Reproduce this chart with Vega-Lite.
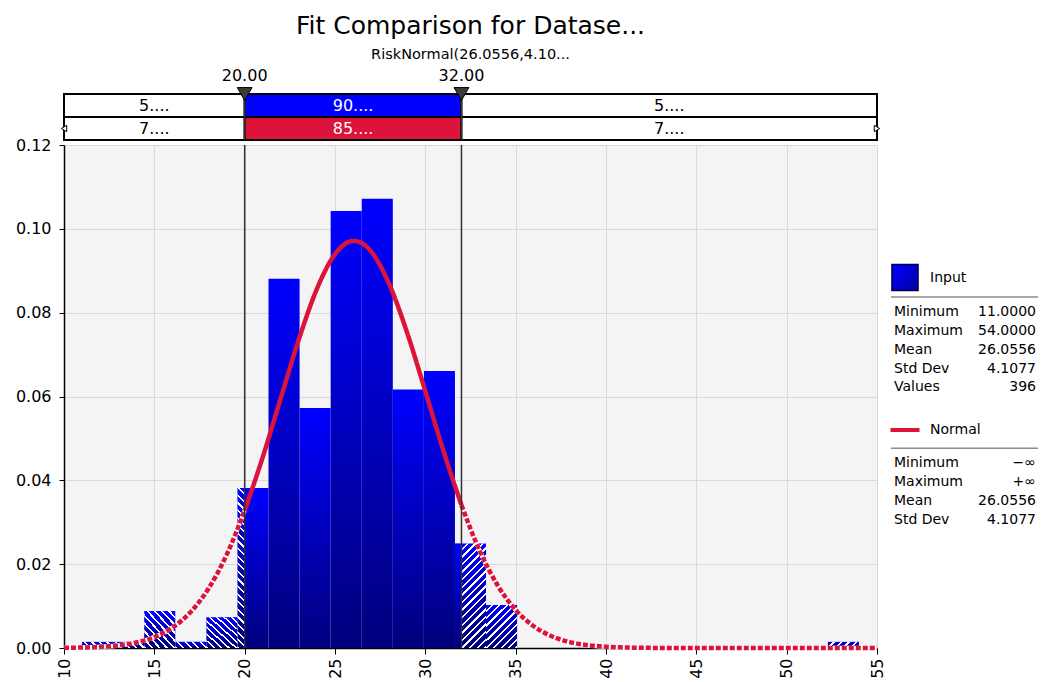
{
 "$schema": "https://vega.github.io/schema/vega-lite/v6.json",
 "background": "white",
 "padding": {"left": 15, "top": 13, "right": 2, "bottom": 0},
 "bounds": "flush",
 "spacing": 5,
 "config": {
  "font": "DejaVu Sans",
  "view": {"stroke": null},
  "axis": {"labelFont": "DejaVu Sans", "labelFontSize": 16, "labelColor": "black", "tickColor": "black", "domainColor": "black", "domainWidth": 1.5, "gridColor": "#d9d9d9", "gridWidth": 1, "title": null}
 },
 "datasets": {
  "bins": [
   {"lo": 11, "hi": 12.72, "density": 0.001468, "region": "left"},
   {"lo": 12.72, "hi": 14.44, "density": 0.001468, "region": "left"},
   {"lo": 14.44, "hi": 16.16, "density": 0.008809, "region": "left"},
   {"lo": 16.16, "hi": 17.88, "density": 0.001468, "region": "left"},
   {"lo": 17.88, "hi": 19.6, "density": 0.007341, "region": "left"},
   {"lo": 19.6, "hi": 20, "density": 0.038172, "region": "left"},
   {"lo": 20, "hi": 21.32, "density": 0.038172, "region": "mid"},
   {"lo": 21.32, "hi": 23.04, "density": 0.08809, "region": "mid"},
   {"lo": 23.04, "hi": 24.76, "density": 0.057259, "region": "mid"},
   {"lo": 24.76, "hi": 26.48, "density": 0.10424, "region": "mid"},
   {"lo": 26.48, "hi": 28.2, "density": 0.107177, "region": "mid"},
   {"lo": 28.2, "hi": 29.92, "density": 0.061664, "region": "mid"},
   {"lo": 29.92, "hi": 31.64, "density": 0.066068, "region": "mid"},
   {"lo": 31.64, "hi": 32, "density": 0.024959, "region": "mid"},
   {"lo": 32, "hi": 33.36, "density": 0.024959, "region": "right"},
   {"lo": 33.36, "hi": 35.08, "density": 0.010277, "region": "right"},
   {"lo": 52.28, "hi": 54, "density": 0.001468, "region": "right"}
  ],
  "curve": [
   {"x": 10, "d": 0.0000467, "seg": "left"},
   {"x": 11, "d": 0.0001175, "seg": "left"},
   {"x": 12, "d": 0.0002786, "seg": "left"},
   {"x": 13, "d": 0.000622, "seg": "left"},
   {"x": 14, "d": 0.001309, "seg": "left"},
   {"x": 15, "d": 0.002596, "seg": "left"},
   {"x": 16, "d": 0.004852, "seg": "left"},
   {"x": 17, "d": 0.00855, "seg": "left"},
   {"x": 18, "d": 0.014196, "seg": "left"},
   {"x": 19, "d": 0.022213, "seg": "left"},
   {"x": 20, "d": 0.032765, "seg": "left"},
   {"x": 20, "d": 0.032765, "seg": "mid"},
   {"x": 21, "d": 0.045538, "seg": "mid"},
   {"x": 22, "d": 0.059655, "seg": "mid"},
   {"x": 23, "d": 0.073643, "seg": "mid"},
   {"x": 24, "d": 0.08569, "seg": "mid"},
   {"x": 25, "d": 0.093966, "seg": "mid"},
   {"x": 25.5, "d": 0.096235, "seg": "mid"},
   {"x": 26, "d": 0.097111, "seg": "mid"},
   {"x": 26.5, "d": 0.096553, "seg": "mid"},
   {"x": 27, "d": 0.094587, "seg": "mid"},
   {"x": 28, "d": 0.086826, "seg": "mid"},
   {"x": 29, "d": 0.075114, "seg": "mid"},
   {"x": 30, "d": 0.061249, "seg": "mid"},
   {"x": 31, "d": 0.047064, "seg": "mid"},
   {"x": 32, "d": 0.034085, "seg": "mid"},
   {"x": 32, "d": 0.034085, "seg": "right"},
   {"x": 33, "d": 0.023264, "seg": "right"},
   {"x": 34, "d": 0.014964, "seg": "right"},
   {"x": 35, "d": 0.009072, "seg": "right"},
   {"x": 36, "d": 0.005183, "seg": "right"},
   {"x": 37, "d": 0.002792, "seg": "right"},
   {"x": 38, "d": 0.001417, "seg": "right"},
   {"x": 39, "d": 0.000678, "seg": "right"},
   {"x": 40, "d": 0.000305, "seg": "right"},
   {"x": 41, "d": 0.00013, "seg": "right"},
   {"x": 42, "d": 0.000052, "seg": "right"},
   {"x": 43, "d": 0.0000196, "seg": "right"},
   {"x": 44, "d": 0.000007, "seg": "right"},
   {"x": 46, "d": 0.0000005, "seg": "right"},
   {"x": 50, "d": 0, "seg": "right"},
   {"x": 55, "d": 0, "seg": "right"}
  ],
  "limits": [
   {"x": 20, "label": "20.00", "row": "Input"},
   {"x": 32, "label": "32.00", "row": "Input"}
  ],
  "band": [
   {"row": "Input", "lo": 10, "hi": 20, "label": "5....", "seg": "left"},
   {"row": "Input", "lo": 20, "hi": 32, "label": "90....", "seg": "mid"},
   {"row": "Input", "lo": 32, "hi": 55, "label": "5....", "seg": "right"},
   {"row": "Normal", "lo": 10, "hi": 20, "label": "7....", "seg": "left"},
   {"row": "Normal", "lo": 20, "hi": 32, "label": "85....", "seg": "mid"},
   {"row": "Normal", "lo": 32, "hi": 55, "label": "7....", "seg": "right"}
  ],
  "tails": [
   {"x": 10, "row": "Normal", "dir": "left"},
   {"x": 55, "row": "Normal", "dir": "right"}
  ],
  "heads": [
   {"key": "Input"},
   {"key": "Normal"}
  ],
  "stats": [
   {"key": "Input Minimum", "label": "Minimum", "value": "11.0000"},
   {"key": "Input Maximum", "label": "Maximum", "value": "54.0000"},
   {"key": "Input Mean", "label": "Mean", "value": "26.0556"},
   {"key": "Input Std Dev", "label": "Std Dev", "value": "4.1077"},
   {"key": "Input Values", "label": "Values", "value": "396"},
   {"key": "Normal Minimum", "label": "Minimum", "value": "−∞"},
   {"key": "Normal Maximum", "label": "Maximum", "value": "+∞"},
   {"key": "Normal Mean", "label": "Mean", "value": "26.0556"},
   {"key": "Normal Std Dev", "label": "Std Dev", "value": "4.1077"}
  ]
 },
 "vconcat": [
  {
   "width": 813,
   "height": 46,
   "title": {"text": "Fit Comparison for Datase...", "subtitle": "RiskNormal(26.0556,4.10...", "font": "DejaVu Sans", "fontSize": 25, "fontWeight": "normal", "color": "black", "subtitleFont": "DejaVu Sans", "subtitleFontSize": 14.5, "subtitleColor": "black", "subtitlePadding": 9, "anchor": "middle", "offset": 7},
   "layer": [
    {
     "data": {"name": "band"},
     "mark": {"type": "rect", "stroke": "black", "strokeWidth": 2},
     "encoding": {
      "x": {"field": "lo", "type": "quantitative", "scale": {"domain": [10, 55], "nice": false, "zero": false}, "axis": null},
      "x2": {"field": "hi"},
      "y": {"field": "row", "type": "nominal", "scale": {"domain": ["Input", "Normal"], "paddingInner": 0, "paddingOuter": 0}, "axis": null},
      "fill": {"condition": {"test": "datum.seg !== 'mid'", "value": "white"}, "field": "row", "type": "nominal", "scale": {"domain": ["Input", "Normal"], "range": ["#0000ff", "#dc143c"]}, "legend": null}
     }
    },
    {
     "data": {"name": "band"},
     "transform": [
      {"fold": ["lo", "hi"], "as": ["edge", "xv"]},
      {"aggregate": [{"op": "mean", "field": "xv", "as": "mid"}], "groupby": ["row", "seg", "label"]}
     ],
     "mark": {"type": "text", "fontSize": 16, "baseline": "middle"},
     "encoding": {
      "x": {"field": "mid", "type": "quantitative"},
      "y": {"field": "row", "type": "nominal"},
      "text": {"field": "label"},
      "color": {"condition": {"test": "datum.seg === 'mid'", "value": "white"}, "value": "black"}
     }
    },
    {
     "data": {"name": "limits"},
     "mark": {"type": "rule", "color": "#333333", "strokeWidth": 1.5},
     "encoding": {"x": {"field": "x", "type": "quantitative"}}
    },
    {
     "data": {"name": "limits"},
     "mark": {"type": "point", "shape": "triangle-down", "size": 220, "filled": true, "fill": "#3a3a3a", "stroke": "black", "strokeWidth": 1, "opacity": 1},
     "encoding": {
      "x": {"field": "x", "type": "quantitative"},
      "y": {"field": "row", "type": "nominal", "bandPosition": 0}
     }
    },
    {
     "data": {"name": "limits"},
     "mark": {"type": "text", "fontSize": 16, "baseline": "alphabetic", "dy": -13, "color": "black"},
     "encoding": {
      "x": {"field": "x", "type": "quantitative"},
      "y": {"field": "row", "type": "nominal", "bandPosition": 0},
      "text": {"field": "label"}
     }
    },
    {
     "data": {"name": "tails"},
     "mark": {"type": "point", "filled": true, "fill": "white", "stroke": "black", "strokeWidth": 1, "size": 40, "opacity": 1},
     "encoding": {
      "x": {"field": "x", "type": "quantitative"},
      "y": {"field": "row", "type": "nominal"},
      "shape": {"field": "dir", "type": "nominal", "scale": {"domain": ["left", "right"], "range": ["triangle-left", "triangle-right"]}, "legend": null}
     }
    }
   ]
  },
  {
   "hconcat": [
    {
     "width": 813,
     "height": 503,
     "view": {"fill": "#f4f4f4", "stroke": null},
     "layer": [
      {
       "data": {"name": "bins"},
       "transform": [{"filter": "datum.region === 'mid'"}],
       "mark": {"type": "rect", "fill": {"gradient": "linear", "x1": 0, "y1": 0, "x2": 0, "y2": 1, "stops": [{"offset": 0, "color": "#0000ff"}, {"offset": 1, "color": "#00007d"}]}},
       "encoding": {
        "x": {"field": "lo", "type": "quantitative", "scale": {"domain": [10, 55], "nice": false, "zero": false}, "axis": {"values": [10, 15, 20, 25, 30, 35, 40, 45, 50, 55], "labelAngle": -90, "tickSize": 6, "labelPadding": 4, "grid": true, "labelFlush": false, "labelOverlap": false}},
        "x2": {"field": "hi"},
        "y": {"field": "density", "type": "quantitative", "scale": {"domain": [0, 0.12], "nice": false}, "axis": {"values": [0, 0.02, 0.04, 0.06, 0.08, 0.1, 0.12], "format": ".2f", "tickSize": 5, "labelPadding": 8, "grid": true, "labelFlush": false}},
        "y2": {"datum": 0}
       }
      },
      {
       "data": {"name": "bins"},
       "transform": [{"filter": "datum.region !== 'mid'"}],
       "mark": {"type": "rect", "fill": {"gradient": "linear", "x1": 0, "y1": 0, "x2": 0, "y2": 1, "stops": [{"offset": 0, "color": "#0000ff"}, {"offset": 1, "color": "#00007d"}]}},
       "encoding": {"x": {"field": "lo", "type": "quantitative"}, "x2": {"field": "hi"}, "y": {"field": "density", "type": "quantitative"}, "y2": {"datum": 0}}
      },
      {
       "data": {"name": "bins"},
       "transform": [{"filter": {"field": "lo", "oneOf": [11, 12.72, 16.16]}}],
       "mark": {"type": "rect", "fill": {"gradient": "linear", "x1": 1, "y1": 0, "x2": -0.1528, "y2": 0.2283, "stops": [
        {"offset": 0, "color": "rgba(255,255,255,0)"}, {"offset": 0.14, "color": "rgba(255,255,255,0)"}, {"offset": 0.14, "color": "white"}, {"offset": 0.2, "color": "white"},
        {"offset": 0.2, "color": "rgba(255,255,255,0)"}, {"offset": 0.34, "color": "rgba(255,255,255,0)"}, {"offset": 0.34, "color": "white"}, {"offset": 0.4, "color": "white"},
        {"offset": 0.4, "color": "rgba(255,255,255,0)"}, {"offset": 0.54, "color": "rgba(255,255,255,0)"}, {"offset": 0.54, "color": "white"}, {"offset": 0.6, "color": "white"},
        {"offset": 0.6, "color": "rgba(255,255,255,0)"}, {"offset": 0.74, "color": "rgba(255,255,255,0)"}, {"offset": 0.74, "color": "white"}, {"offset": 0.8, "color": "white"},
        {"offset": 0.8, "color": "rgba(255,255,255,0)"}, {"offset": 0.94, "color": "rgba(255,255,255,0)"}, {"offset": 0.94, "color": "white"}, {"offset": 1, "color": "white"}]}},
       "encoding": {"x": {"field": "lo", "type": "quantitative"}, "x2": {"field": "hi"}, "y": {"field": "density", "type": "quantitative"}, "y2": {"datum": 0}}
      },
      {
       "data": {"name": "bins"},
       "transform": [{"filter": {"field": "lo", "oneOf": [52.28]}}],
       "mark": {"type": "rect", "fill": {"gradient": "linear", "x1": 0, "y1": 0, "x2": 1.1528, "y2": 0.2283, "stops": [
        {"offset": 0, "color": "rgba(255,255,255,0)"}, {"offset": 0.14, "color": "rgba(255,255,255,0)"}, {"offset": 0.14, "color": "white"}, {"offset": 0.2, "color": "white"},
        {"offset": 0.2, "color": "rgba(255,255,255,0)"}, {"offset": 0.34, "color": "rgba(255,255,255,0)"}, {"offset": 0.34, "color": "white"}, {"offset": 0.4, "color": "white"},
        {"offset": 0.4, "color": "rgba(255,255,255,0)"}, {"offset": 0.54, "color": "rgba(255,255,255,0)"}, {"offset": 0.54, "color": "white"}, {"offset": 0.6, "color": "white"},
        {"offset": 0.6, "color": "rgba(255,255,255,0)"}, {"offset": 0.74, "color": "rgba(255,255,255,0)"}, {"offset": 0.74, "color": "white"}, {"offset": 0.8, "color": "white"},
        {"offset": 0.8, "color": "rgba(255,255,255,0)"}, {"offset": 0.94, "color": "rgba(255,255,255,0)"}, {"offset": 0.94, "color": "white"}, {"offset": 1, "color": "white"}]}},
       "encoding": {"x": {"field": "lo", "type": "quantitative"}, "x2": {"field": "hi"}, "y": {"field": "density", "type": "quantitative"}, "y2": {"datum": 0}}
      },
      {
       "data": {"name": "bins"},
       "transform": [{"filter": {"field": "lo", "oneOf": [14.44, 17.88]}}],
       "mark": {"type": "rect", "fill": {"gradient": "linear", "x1": 1, "y1": 0, "x2": 0.0448, "y2": 1.0412, "stops": [
        {"offset": 0, "color": "rgba(255,255,255,0)"}, {"offset": 0.0778, "color": "rgba(255,255,255,0)"}, {"offset": 0.0778, "color": "white"}, {"offset": 0.1111, "color": "white"},
        {"offset": 0.1111, "color": "rgba(255,255,255,0)"}, {"offset": 0.1889, "color": "rgba(255,255,255,0)"}, {"offset": 0.1889, "color": "white"}, {"offset": 0.2222, "color": "white"},
        {"offset": 0.2222, "color": "rgba(255,255,255,0)"}, {"offset": 0.3, "color": "rgba(255,255,255,0)"}, {"offset": 0.3, "color": "white"}, {"offset": 0.3333, "color": "white"},
        {"offset": 0.3333, "color": "rgba(255,255,255,0)"}, {"offset": 0.4111, "color": "rgba(255,255,255,0)"}, {"offset": 0.4111, "color": "white"}, {"offset": 0.4444, "color": "white"},
        {"offset": 0.4444, "color": "rgba(255,255,255,0)"}, {"offset": 0.5222, "color": "rgba(255,255,255,0)"}, {"offset": 0.5222, "color": "white"}, {"offset": 0.5556, "color": "white"},
        {"offset": 0.5556, "color": "rgba(255,255,255,0)"}, {"offset": 0.6333, "color": "rgba(255,255,255,0)"}, {"offset": 0.6333, "color": "white"}, {"offset": 0.6667, "color": "white"},
        {"offset": 0.6667, "color": "rgba(255,255,255,0)"}, {"offset": 0.7444, "color": "rgba(255,255,255,0)"}, {"offset": 0.7444, "color": "white"}, {"offset": 0.7778, "color": "white"},
        {"offset": 0.7778, "color": "rgba(255,255,255,0)"}, {"offset": 0.8556, "color": "rgba(255,255,255,0)"}, {"offset": 0.8556, "color": "white"}, {"offset": 0.8889, "color": "white"},
        {"offset": 0.8889, "color": "rgba(255,255,255,0)"}, {"offset": 0.9667, "color": "rgba(255,255,255,0)"}, {"offset": 0.9667, "color": "white"}, {"offset": 1, "color": "white"}]}},
       "encoding": {"x": {"field": "lo", "type": "quantitative"}, "x2": {"field": "hi"}, "y": {"field": "density", "type": "quantitative"}, "y2": {"datum": 0}}
      },
      {
       "data": {"name": "bins"},
       "transform": [{"filter": {"field": "lo", "oneOf": [19.6]}}],
       "mark": {"type": "rect", "fill": {"gradient": "linear", "x1": 1, "y1": 0, "x2": 0.953, "y2": 1.043, "stops": [
        {"offset": 0, "color": "rgba(255,255,255,0)"}, {"offset": 0.0318, "color": "rgba(255,255,255,0)"}, {"offset": 0.0318, "color": "white"}, {"offset": 0.0455, "color": "white"},
        {"offset": 0.0455, "color": "rgba(255,255,255,0)"}, {"offset": 0.0773, "color": "rgba(255,255,255,0)"}, {"offset": 0.0773, "color": "white"}, {"offset": 0.0909, "color": "white"},
        {"offset": 0.0909, "color": "rgba(255,255,255,0)"}, {"offset": 0.1227, "color": "rgba(255,255,255,0)"}, {"offset": 0.1227, "color": "white"}, {"offset": 0.1364, "color": "white"},
        {"offset": 0.1364, "color": "rgba(255,255,255,0)"}, {"offset": 0.1682, "color": "rgba(255,255,255,0)"}, {"offset": 0.1682, "color": "white"}, {"offset": 0.1818, "color": "white"},
        {"offset": 0.1818, "color": "rgba(255,255,255,0)"}, {"offset": 0.2136, "color": "rgba(255,255,255,0)"}, {"offset": 0.2136, "color": "white"}, {"offset": 0.2273, "color": "white"},
        {"offset": 0.2273, "color": "rgba(255,255,255,0)"}, {"offset": 0.2591, "color": "rgba(255,255,255,0)"}, {"offset": 0.2591, "color": "white"}, {"offset": 0.2727, "color": "white"},
        {"offset": 0.2727, "color": "rgba(255,255,255,0)"}, {"offset": 0.3045, "color": "rgba(255,255,255,0)"}, {"offset": 0.3045, "color": "white"}, {"offset": 0.3182, "color": "white"},
        {"offset": 0.3182, "color": "rgba(255,255,255,0)"}, {"offset": 0.35, "color": "rgba(255,255,255,0)"}, {"offset": 0.35, "color": "white"}, {"offset": 0.3636, "color": "white"},
        {"offset": 0.3636, "color": "rgba(255,255,255,0)"}, {"offset": 0.3955, "color": "rgba(255,255,255,0)"}, {"offset": 0.3955, "color": "white"}, {"offset": 0.4091, "color": "white"},
        {"offset": 0.4091, "color": "rgba(255,255,255,0)"}, {"offset": 0.4409, "color": "rgba(255,255,255,0)"}, {"offset": 0.4409, "color": "white"}, {"offset": 0.4545, "color": "white"},
        {"offset": 0.4545, "color": "rgba(255,255,255,0)"}, {"offset": 0.4864, "color": "rgba(255,255,255,0)"}, {"offset": 0.4864, "color": "white"}, {"offset": 0.5, "color": "white"},
        {"offset": 0.5, "color": "rgba(255,255,255,0)"}, {"offset": 0.5318, "color": "rgba(255,255,255,0)"}, {"offset": 0.5318, "color": "white"}, {"offset": 0.5455, "color": "white"},
        {"offset": 0.5455, "color": "rgba(255,255,255,0)"}, {"offset": 0.5773, "color": "rgba(255,255,255,0)"}, {"offset": 0.5773, "color": "white"}, {"offset": 0.5909, "color": "white"},
        {"offset": 0.5909, "color": "rgba(255,255,255,0)"}, {"offset": 0.6227, "color": "rgba(255,255,255,0)"}, {"offset": 0.6227, "color": "white"}, {"offset": 0.6364, "color": "white"},
        {"offset": 0.6364, "color": "rgba(255,255,255,0)"}, {"offset": 0.6682, "color": "rgba(255,255,255,0)"}, {"offset": 0.6682, "color": "white"}, {"offset": 0.6818, "color": "white"},
        {"offset": 0.6818, "color": "rgba(255,255,255,0)"}, {"offset": 0.7136, "color": "rgba(255,255,255,0)"}, {"offset": 0.7136, "color": "white"}, {"offset": 0.7273, "color": "white"},
        {"offset": 0.7273, "color": "rgba(255,255,255,0)"}, {"offset": 0.7591, "color": "rgba(255,255,255,0)"}, {"offset": 0.7591, "color": "white"}, {"offset": 0.7727, "color": "white"},
        {"offset": 0.7727, "color": "rgba(255,255,255,0)"}, {"offset": 0.8045, "color": "rgba(255,255,255,0)"}, {"offset": 0.8045, "color": "white"}, {"offset": 0.8182, "color": "white"},
        {"offset": 0.8182, "color": "rgba(255,255,255,0)"}, {"offset": 0.85, "color": "rgba(255,255,255,0)"}, {"offset": 0.85, "color": "white"}, {"offset": 0.8636, "color": "white"},
        {"offset": 0.8636, "color": "rgba(255,255,255,0)"}, {"offset": 0.8955, "color": "rgba(255,255,255,0)"}, {"offset": 0.8955, "color": "white"}, {"offset": 0.9091, "color": "white"},
        {"offset": 0.9091, "color": "rgba(255,255,255,0)"}, {"offset": 0.9409, "color": "rgba(255,255,255,0)"}, {"offset": 0.9409, "color": "white"}, {"offset": 0.9545, "color": "white"},
        {"offset": 0.9545, "color": "rgba(255,255,255,0)"}, {"offset": 0.9864, "color": "rgba(255,255,255,0)"}, {"offset": 0.9864, "color": "white"}, {"offset": 1, "color": "white"}]}},
       "encoding": {"x": {"field": "lo", "type": "quantitative"}, "x2": {"field": "hi"}, "y": {"field": "density", "type": "quantitative"}, "y2": {"datum": 0}}
      },
      {
       "data": {"name": "bins"},
       "transform": [{"filter": {"field": "lo", "oneOf": [32]}}],
       "mark": {"type": "rect", "fill": {"gradient": "linear", "x1": 0, "y1": 0, "x2": 0.2747, "y2": 1.1702, "stops": [
        {"offset": 0, "color": "rgba(255,255,255,0)"}, {"offset": 0.0412, "color": "rgba(255,255,255,0)"}, {"offset": 0.0412, "color": "white"}, {"offset": 0.0588, "color": "white"},
        {"offset": 0.0588, "color": "rgba(255,255,255,0)"}, {"offset": 0.1, "color": "rgba(255,255,255,0)"}, {"offset": 0.1, "color": "white"}, {"offset": 0.1176, "color": "white"},
        {"offset": 0.1176, "color": "rgba(255,255,255,0)"}, {"offset": 0.1588, "color": "rgba(255,255,255,0)"}, {"offset": 0.1588, "color": "white"}, {"offset": 0.1765, "color": "white"},
        {"offset": 0.1765, "color": "rgba(255,255,255,0)"}, {"offset": 0.2176, "color": "rgba(255,255,255,0)"}, {"offset": 0.2176, "color": "white"}, {"offset": 0.2353, "color": "white"},
        {"offset": 0.2353, "color": "rgba(255,255,255,0)"}, {"offset": 0.2765, "color": "rgba(255,255,255,0)"}, {"offset": 0.2765, "color": "white"}, {"offset": 0.2941, "color": "white"},
        {"offset": 0.2941, "color": "rgba(255,255,255,0)"}, {"offset": 0.3353, "color": "rgba(255,255,255,0)"}, {"offset": 0.3353, "color": "white"}, {"offset": 0.3529, "color": "white"},
        {"offset": 0.3529, "color": "rgba(255,255,255,0)"}, {"offset": 0.3941, "color": "rgba(255,255,255,0)"}, {"offset": 0.3941, "color": "white"}, {"offset": 0.4118, "color": "white"},
        {"offset": 0.4118, "color": "rgba(255,255,255,0)"}, {"offset": 0.4529, "color": "rgba(255,255,255,0)"}, {"offset": 0.4529, "color": "white"}, {"offset": 0.4706, "color": "white"},
        {"offset": 0.4706, "color": "rgba(255,255,255,0)"}, {"offset": 0.5118, "color": "rgba(255,255,255,0)"}, {"offset": 0.5118, "color": "white"}, {"offset": 0.5294, "color": "white"},
        {"offset": 0.5294, "color": "rgba(255,255,255,0)"}, {"offset": 0.5706, "color": "rgba(255,255,255,0)"}, {"offset": 0.5706, "color": "white"}, {"offset": 0.5882, "color": "white"},
        {"offset": 0.5882, "color": "rgba(255,255,255,0)"}, {"offset": 0.6294, "color": "rgba(255,255,255,0)"}, {"offset": 0.6294, "color": "white"}, {"offset": 0.6471, "color": "white"},
        {"offset": 0.6471, "color": "rgba(255,255,255,0)"}, {"offset": 0.6882, "color": "rgba(255,255,255,0)"}, {"offset": 0.6882, "color": "white"}, {"offset": 0.7059, "color": "white"},
        {"offset": 0.7059, "color": "rgba(255,255,255,0)"}, {"offset": 0.7471, "color": "rgba(255,255,255,0)"}, {"offset": 0.7471, "color": "white"}, {"offset": 0.7647, "color": "white"},
        {"offset": 0.7647, "color": "rgba(255,255,255,0)"}, {"offset": 0.8059, "color": "rgba(255,255,255,0)"}, {"offset": 0.8059, "color": "white"}, {"offset": 0.8235, "color": "white"},
        {"offset": 0.8235, "color": "rgba(255,255,255,0)"}, {"offset": 0.8647, "color": "rgba(255,255,255,0)"}, {"offset": 0.8647, "color": "white"}, {"offset": 0.8824, "color": "white"},
        {"offset": 0.8824, "color": "rgba(255,255,255,0)"}, {"offset": 0.9235, "color": "rgba(255,255,255,0)"}, {"offset": 0.9235, "color": "white"}, {"offset": 0.9412, "color": "white"},
        {"offset": 0.9412, "color": "rgba(255,255,255,0)"}, {"offset": 0.9824, "color": "rgba(255,255,255,0)"}, {"offset": 0.9824, "color": "white"}, {"offset": 1, "color": "white"}]}},
       "encoding": {"x": {"field": "lo", "type": "quantitative"}, "x2": {"field": "hi"}, "y": {"field": "density", "type": "quantitative"}, "y2": {"datum": 0}}
      },
      {
       "data": {"name": "bins"},
       "transform": [{"filter": {"field": "lo", "oneOf": [33.36]}}],
       "mark": {"type": "rect", "fill": {"gradient": "linear", "x1": 0, "y1": 0, "x2": 0.8151, "y2": 1.133, "stops": [
        {"offset": 0, "color": "rgba(255,255,255,0)"}, {"offset": 0.07, "color": "rgba(255,255,255,0)"}, {"offset": 0.07, "color": "white"}, {"offset": 0.1, "color": "white"},
        {"offset": 0.1, "color": "rgba(255,255,255,0)"}, {"offset": 0.17, "color": "rgba(255,255,255,0)"}, {"offset": 0.17, "color": "white"}, {"offset": 0.2, "color": "white"},
        {"offset": 0.2, "color": "rgba(255,255,255,0)"}, {"offset": 0.27, "color": "rgba(255,255,255,0)"}, {"offset": 0.27, "color": "white"}, {"offset": 0.3, "color": "white"},
        {"offset": 0.3, "color": "rgba(255,255,255,0)"}, {"offset": 0.37, "color": "rgba(255,255,255,0)"}, {"offset": 0.37, "color": "white"}, {"offset": 0.4, "color": "white"},
        {"offset": 0.4, "color": "rgba(255,255,255,0)"}, {"offset": 0.47, "color": "rgba(255,255,255,0)"}, {"offset": 0.47, "color": "white"}, {"offset": 0.5, "color": "white"},
        {"offset": 0.5, "color": "rgba(255,255,255,0)"}, {"offset": 0.57, "color": "rgba(255,255,255,0)"}, {"offset": 0.57, "color": "white"}, {"offset": 0.6, "color": "white"},
        {"offset": 0.6, "color": "rgba(255,255,255,0)"}, {"offset": 0.67, "color": "rgba(255,255,255,0)"}, {"offset": 0.67, "color": "white"}, {"offset": 0.7, "color": "white"},
        {"offset": 0.7, "color": "rgba(255,255,255,0)"}, {"offset": 0.77, "color": "rgba(255,255,255,0)"}, {"offset": 0.77, "color": "white"}, {"offset": 0.8, "color": "white"},
        {"offset": 0.8, "color": "rgba(255,255,255,0)"}, {"offset": 0.87, "color": "rgba(255,255,255,0)"}, {"offset": 0.87, "color": "white"}, {"offset": 0.9, "color": "white"},
        {"offset": 0.9, "color": "rgba(255,255,255,0)"}, {"offset": 0.97, "color": "rgba(255,255,255,0)"}, {"offset": 0.97, "color": "white"}, {"offset": 1, "color": "white"}]}},
       "encoding": {"x": {"field": "lo", "type": "quantitative"}, "x2": {"field": "hi"}, "y": {"field": "density", "type": "quantitative"}, "y2": {"datum": 0}}
      },
      {
       "data": {"name": "curve"},
       "transform": [{"filter": "datum.seg !== 'mid'"}],
       "mark": {"type": "line", "color": "white", "strokeWidth": 4.5, "interpolate": "monotone"},
       "encoding": {"x": {"field": "x", "type": "quantitative"}, "y": {"field": "d", "type": "quantitative"}, "detail": {"field": "seg", "type": "nominal"}}
      },
      {
       "data": {"name": "curve"},
       "mark": {"type": "line", "color": "#dc143c", "strokeWidth": 4.5, "interpolate": "monotone", "strokeCap": "butt"},
       "encoding": {
        "x": {"field": "x", "type": "quantitative"},
        "y": {"field": "d", "type": "quantitative"},
        "strokeDash": {"field": "seg", "type": "nominal", "scale": {"domain": ["left", "mid", "right"], "range": [[5, 2], [1, 0], [5, 2]]}, "legend": null}
       }
      },
      {
       "data": {"name": "limits"},
       "mark": {"type": "rule", "color": "#333333", "strokeWidth": 1.5},
       "encoding": {"x": {"field": "x", "type": "quantitative"}}
      }
     ]
    },
    {
     "width": 147,
     "height": 503,
     "layer": [
      {
       "data": {"name": "heads"},
       "mark": {"type": "rule", "color": "#8c8c8c", "strokeWidth": 1.5},
       "encoding": {
        "x": {"datum": "left", "type": "nominal", "scale": {"type": "point", "domain": ["left", "right"], "range": [0, 147], "padding": 0}, "axis": null},
        "x2": {"datum": "right"},
        "y": {"field": "key", "type": "nominal", "scale": {"type": "point", "domain": ["Input", "gap1", "Input Minimum", "Input Maximum", "Input Mean", "Input Std Dev", "Input Values", "gap2", "Normal", "gap3", "Normal Minimum", "Normal Maximum", "Normal Mean", "Normal Std Dev"], "range": [129, 374.7], "padding": 0}, "axis": null},
        "yOffset": {"value": 23}
       }
      },
      {
       "data": {"name": "heads"},
       "mark": {"type": "text", "align": "left", "baseline": "middle", "fontSize": 14, "dx": 39, "dy": 4.4, "color": "black"},
       "encoding": {
        "x": {"datum": "left", "type": "nominal"},
        "y": {"field": "key", "type": "nominal"},
        "text": {"field": "key"}
       }
      },
      {
       "data": {"name": "heads"},
       "transform": [{"filter": "datum.key === 'Input'"}],
       "mark": {"type": "point", "shape": "square", "size": 680, "filled": true, "opacity": 1, "fill": {"gradient": "linear", "x1": 0, "y1": 0, "x2": 1, "y2": 1, "stops": [{"offset": 0, "color": "#0000ff"}, {"offset": 1, "color": "#0000a0"}]}, "stroke": "#000050", "strokeWidth": 1.5},
       "encoding": {
        "x": {"datum": "left", "type": "nominal"},
        "y": {"field": "key", "type": "nominal"},
        "xOffset": {"value": 14},
        "yOffset": {"value": 3.5}
       }
      },
      {
       "data": {"name": "heads"},
       "transform": [{"filter": "datum.key === 'Normal'"}],
       "mark": {"type": "point", "shape": "stroke", "size": 841, "filled": false, "opacity": 1, "stroke": "#dc143c", "strokeWidth": 4},
       "encoding": {
        "x": {"datum": "left", "type": "nominal"},
        "y": {"field": "key", "type": "nominal"},
        "xOffset": {"value": 14},
        "yOffset": {"value": 4.8}
       }
      },
      {
       "data": {"name": "stats"},
       "mark": {"type": "text", "align": "left", "baseline": "middle", "fontSize": 14, "dx": 3, "color": "black"},
       "encoding": {
        "x": {"datum": "left", "type": "nominal"},
        "y": {"field": "key", "type": "nominal"},
        "text": {"field": "label"}
       }
      },
      {
       "data": {"name": "stats"},
       "mark": {"type": "text", "align": "right", "baseline": "middle", "fontSize": 14, "dx": -2, "color": "black"},
       "encoding": {
        "x": {"datum": "right", "type": "nominal"},
        "y": {"field": "key", "type": "nominal"},
        "text": {"field": "value"}
       }
      }
     ]
    }
   ],
   "spacing": 14,
   "bounds": "flush"
  }
 ]
}
